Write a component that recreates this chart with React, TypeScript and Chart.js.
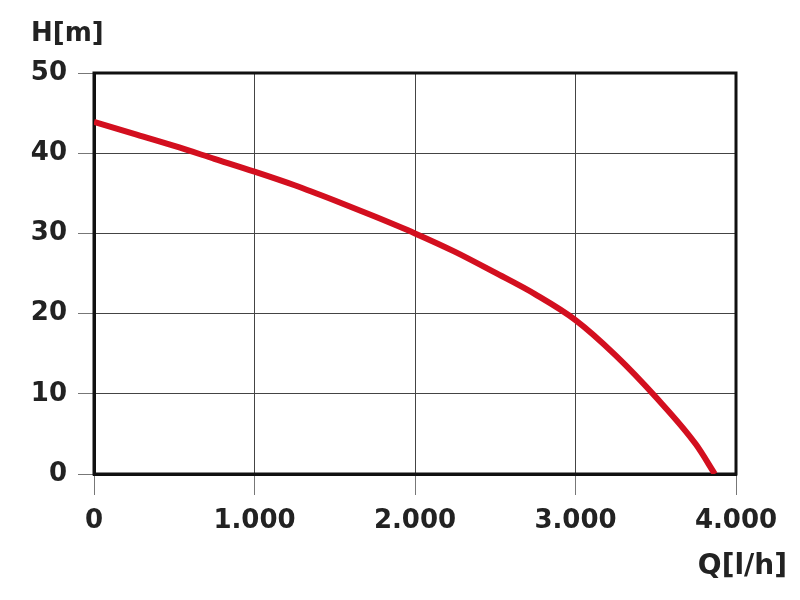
import React, { useEffect, useRef } from "react";
import { Chart, registerables } from "chart.js";

Chart.register(...registerables);

const flowQ = [0, 250, 500, 750, 1000, 1250, 1500, 1750, 2000, 2250, 2500, 2750, 3000, 3250, 3500, 3750, 3868];
const headH = [43.9, 42.4, 40.9, 39.3, 37.7, 36.0, 34.1, 32.1, 30.0, 27.7, 25.1, 22.4, 19.2, 14.8, 9.6, 3.7, 0];
const xTicks = [0, 1000, 2000, 3000, 4000];
const yTicks = [0, 10, 20, 30, 40, 50];
const yTitle = "H[m]";
const xTitle = "Q[l/h]";

const FONT = "'DejaVu Sans', sans-serif";

export default function App() {
  const ref = useRef<HTMLCanvasElement | null>(null);

  useEffect(() => {
    if (!ref.current) return;
    const framePlugin = {
      id: "frame",
      beforeDatasetsDraw(chart: any) {
        const { ctx, chartArea: a } = chart;
        ctx.save();
        ctx.strokeStyle = "#111";
        ctx.lineWidth = 3;
        ctx.strokeRect(a.left, a.top, a.right - a.left, a.bottom - a.top);
        ctx.restore();
      },
      afterDraw(chart: any) {
        const { ctx } = chart;
        ctx.save();
        ctx.fillStyle = "#222";
        ctx.textBaseline = "alphabetic";
        ctx.font = `bold 26px ${FONT}`;
        ctx.textAlign = "left";
        ctx.fillText(yTitle, 31, 41);
        ctx.font = `bold 28px ${FONT}`;
        ctx.textAlign = "right";
        ctx.fillText(xTitle, 787, 574);
        ctx.restore();
      },
    };

    const chart = new Chart(ref.current, {
      type: "line",
      data: {
        datasets: [
          {
            data: flowQ.map((q, i) => ({ x: q, y: headH[i] })),
            borderColor: "#d30f1f",
            borderWidth: 6,
            pointRadius: 0,
            fill: false,
            cubicInterpolationMode: "monotone",
            borderCapStyle: "butt",
          },
        ],
      },
      options: {
        animation: false,
        responsive: false,
        maintainAspectRatio: false,
        layout: { padding: { top: 73, right: 64, bottom: 0, left: 0 } },
        plugins: { legend: { display: false }, tooltip: { enabled: false } },
        scales: {
          x: {
            type: "linear",
            min: 0,
            max: 4000,
            afterFit: (s: any) => {
              s.height = 126;
            },
            afterBuildTicks: (s: any) => {
              s.ticks = xTicks.map((v) => ({ value: v }));
            },
            ticks: {
              color: "#222",
              font: { family: FONT, size: 26, weight: "bold" },
              padding: 11,
              maxRotation: 0,
              callback: (v: any) => (Number(v) === 0 ? "0" : Number(v).toLocaleString("de-DE")),
            },
            grid: { color: "#444", lineWidth: 1, tickLength: 21, tickColor: "#777", tickWidth: 1 },
            border: { display: true, color: "#111", width: 3 },
          },
          y: {
            type: "linear",
            min: 0,
            max: 50,
            afterFit: (s: any) => {
              s.width = 94;
            },
            afterBuildTicks: (s: any) => {
              s.ticks = yTicks.map((v) => ({ value: v }));
            },
            ticks: {
              color: "#222",
              font: { family: FONT, size: 26, weight: "bold" },
              padding: 11,
            },
            grid: { color: "#444", lineWidth: 1, tickLength: 16, tickColor: "#777", tickWidth: 1 },
            border: { display: true, color: "#111", width: 3 },
          },
        },
      },
      plugins: [framePlugin],
    } as any);
    return () => chart.destroy();
  }, []);

  return (
    <div style={{ position: "fixed", left: 0, top: 0, width: 800, height: 600, background: "#fff" }}>
      <canvas ref={ref} width={800} height={600} style={{ width: 800, height: 600 }} />
    </div>
  );
}
